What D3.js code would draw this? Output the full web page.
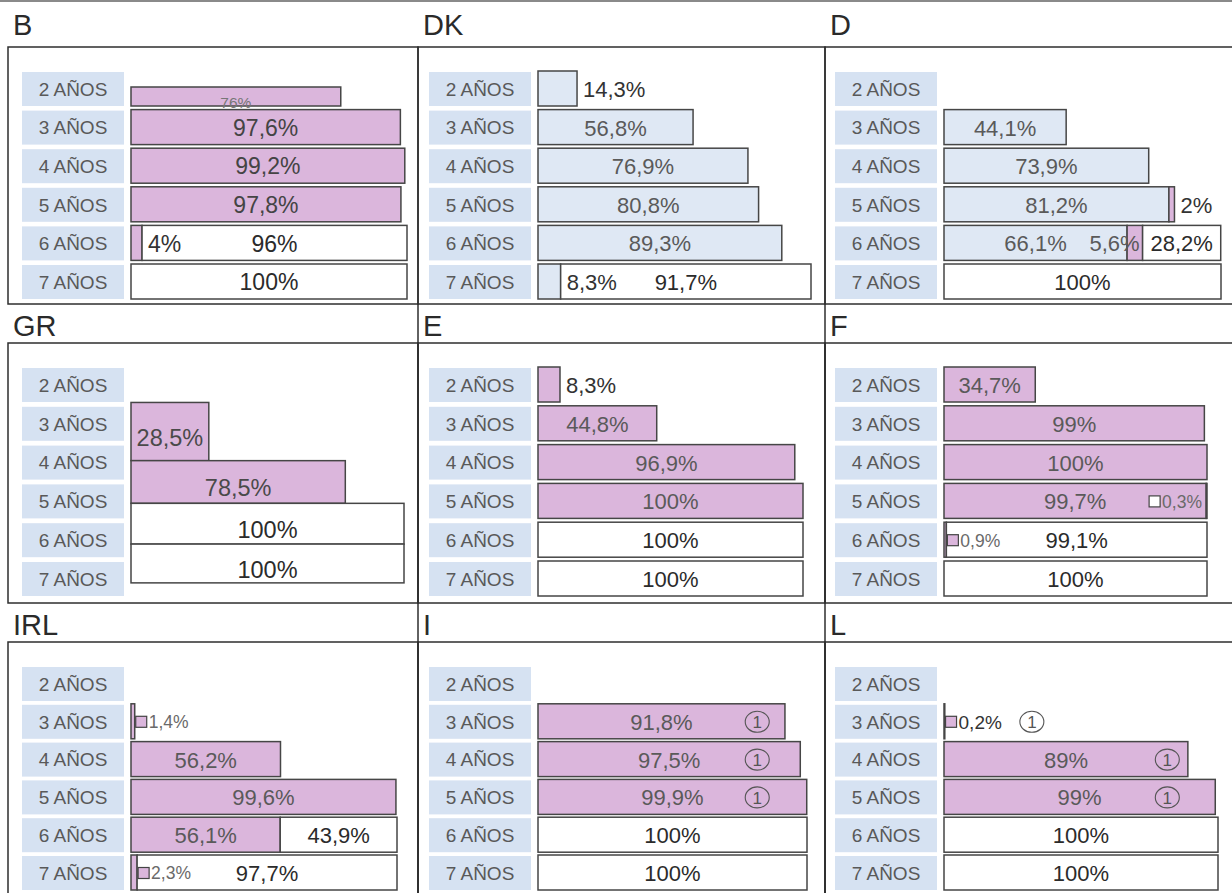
<!DOCTYPE html>
<html><head><meta charset="utf-8">
<script src="https://cdn.jsdelivr.net/npm/d3@7"></script>
<style>
body{margin:0;background:#fff;}
svg{display:block;font-family:"Liberation Sans",Arial,Helvetica,sans-serif;}
</style>
</head><body>
<svg id="c" width="1232" height="893"></svg>
<script>
// ---------------- DATA ----------------
const countries = ["B","DK","D","GR","E","F","IRL","I","L"];
const ages = ["2 AÑOS","3 AÑOS","4 AÑOS","5 AÑOS","6 AÑOS","7 AÑOS"];
// light blue: kindergarten, pink: pre-school, white: primary school (% of each age group)
const blueDK = [14.3, 56.8, 76.9, 80.8, 89.3, 8.3];
const blueD  = [0, 44.1, 73.9, 81.2, 66.1, 0];
const pinkB   = [76, 97.6, 99.2, 97.8, 4, 0];
const pinkD   = [0, 0, 0, 2, 5.6, 0];
const pinkGR  = [28.5, 78.5, 0, 0];
const pinkE   = [8.3, 44.8, 96.9, 100, 0, 0];
const pinkF   = [34.7, 99, 100, 99.7, 0.9, 0];
const pinkIRL = [0, 1.4, 56.2, 99.6, 56.1, 2.3];
const pinkI   = [0, 91.8, 97.5, 99.9, 0, 0];
const pinkL   = [0, 0.2, 89, 99, 0, 0];
const whiteB   = [0, 0, 0, 0, 96, 100];
const whiteDK  = [0, 0, 0, 0, 0, 91.7];
const whiteD   = [0, 0, 0, 0, 28.2, 100];
const whiteGR  = [0, 0, 100, 100];
const whiteE   = [0, 0, 0, 0, 100, 100];
const whiteF   = [0, 0, 0, 0.3, 99.1, 100];
const whiteIRL = [0, 0, 0, 0, 43.9, 97.7];
const whiteI   = [0, 0, 0, 0, 100, 100];
const whiteL   = [0, 0, 0, 0, 100, 100];
// Greek bars straddle age groups (age from / age to)
const grAgeFrom = [2.45, 3.95, 5.05, 6.1];
const grAgeTo   = [3.95, 5.05, 6.1, 7.1];
// footnote (1) markers
const noteI = [0, 1, 1, 1, 0, 0];
const noteL = [0, 1, 1, 1, 0, 0];

// ---------------- STYLE / LAYOUT ----------------
const C = {blue:"#dfe8f4", pink:"#dbb6dc", white:"#ffffff", label:"#d6e2f2",
           stroke:"#464646", border:"#2e2e2e"};
const seriesBy = {
  B:{blue:null,pink:pinkB,white:whiteB}, DK:{blue:blueDK,pink:null,white:whiteDK},
  D:{blue:blueD,pink:pinkD,white:whiteD}, GR:{blue:null,pink:pinkGR,white:whiteGR},
  E:{blue:null,pink:pinkE,white:whiteE}, F:{blue:null,pink:pinkF,white:whiteF},
  IRL:{blue:null,pink:pinkIRL,white:whiteIRL}, I:{blue:null,pink:pinkI,white:whiteI},
  L:{blue:null,pink:pinkL,white:whiteL}
};
const notesBy = {I:noteI, L:noteL};
const colX = [8, 418, 825, 1240];
const barX0 = [131, 538, 944];
const barW = {B:276, DK:273, D:277, GR:273, E:265, F:263, IRL:266, I:269, L:274};
const boxTop = [47, 343, 642], boxBottom = [304, 603, 905];
const titleY = [35, 336, 635];
const pitch = [38.6, 38.8, 37.8];
const labelH = 34;
const markerKeys = new Set(["F|5 AÑOS|white","F|6 AÑOS|pink","IRL|3 AÑOS|pink","IRL|7 AÑOS|pink","L|3 AÑOS|pink"]);
const endAnchorKeys = new Set(["D|6 AÑOS|pink"]);
const thinKeys = new Set(["B|2 AÑOS"]);
const fmt = v => String(v).replace(".", ",") + "%";

const svg = d3.select("#c");
svg.append("rect").attr("width",1232).attr("height",893).attr("fill","#fff");
svg.append("line").attr("x1",0).attr("x2",1232).attr("y1",1).attr("y2",1)
   .attr("stroke","#8a8a8a").attr("stroke-width",2);
// separators running through title bands of rows 2 and 3
[colX[1], colX[2]].forEach(xx => svg.append("line").attr("x1",xx).attr("x2",xx)
   .attr("y1",boxBottom[0]).attr("y2",893).attr("stroke",C.border).attr("stroke-width",1.5));

countries.forEach((c, k) => {
  const col = k % 3, row = Math.floor(k / 3);
  const g = svg.append("g");
  const left = colX[col], right = colX[col + 1];
  g.append("rect").attr("x",left).attr("y",boxTop[row]).attr("width",right-left)
    .attr("height",boxBottom[row]-boxTop[row]).attr("fill","none")
    .attr("stroke",C.border).attr("stroke-width",1.5);
  g.append("text").attr("x",left+5).attr("y",titleY[row]).text(c)
    .attr("font-size",29).attr("fill","#2a2a2a");

  const p = pitch[row], gap = p - labelH, r0 = boxTop[row] + 25;
  const y = d3.scaleBand().domain(ages).range([r0, r0 + 6*p - gap]).paddingInner(gap/p).paddingOuter(0);
  const bw = y.bandwidth();
  const x = d3.scaleLinear().domain([0,100]).range([barX0[col], barX0[col] + barW[c]]);

  // age label boxes
  const lab = g.selectAll("g.lab").data(ages).join("g");
  lab.append("rect").attr("x",barX0[col]-109).attr("y",d=>y(d)).attr("width",102)
     .attr("height",bw).attr("fill",C.label);
  lab.append("text").attr("x",barX0[col]-58).attr("y",d=>y(d)+bw/2).attr("dy","0.36em")
     .attr("text-anchor","middle").attr("font-size",19).attr("fill","#595959").text(d=>d);

  const barsL = g.append("g"), textL = g.append("g");
  const S = seriesBy[c];

  if (c === "GR") {
    const yAge = d3.scaleLinear().domain([2,7]).range([y(ages[0])+bw/2, y(ages[5])+bw/2]);
    grAgeFrom.forEach((a0, i) => {
      const segs = [["pink",S.pink[i]],["white",S.white[i]]].filter(s=>s[1]>0);
      let acc = 0;
      segs.forEach(([key,v]) => {
        const y0 = yAge(a0), y1 = yAge(grAgeTo[i]);
        barsL.append("rect").attr("x",x(acc)).attr("y",y0).attr("width",x(acc+v)-x(acc))
          .attr("height",y1-y0).attr("fill",C[key]).attr("stroke",C.stroke).attr("stroke-width",1.5);
        textL.append("text").attr("x",(x(acc)+x(acc+v))/2).attr("y",(y0+y1)/2+6).attr("dy","0.36em")
          .attr("text-anchor","middle").attr("font-size",23.5)
          .attr("fill",key==="white"?"#2b2b2b":"#4a4a4a").text(fmt(v));
        acc += v;
      });
    });
    return;
  }

  ages.forEach((a, i) => {
    const segs = [["blue",S.blue],["pink",S.pink],["white",S.white]]
      .filter(s => s[1] && s[1][i] > 0).map(s => [s[0], s[1][i]]);
    let acc = 0;
    const thin = thinKeys.has(c + "|" + a);
    const by0 = thin ? y(a) + bw - 19 : y(a) - 1, bh = thin ? 19 : bw + 1;
    const cy = y(a) + bw / 2;
    let lastTextEnd = null, lastValue = 0;
    segs.forEach(([key, v]) => {
      const x0 = x(acc), x1 = x(acc + v);
      barsL.append("rect").attr("x",x0).attr("y",by0).attr("width",Math.max(x1-x0,0.8))
        .attr("height",bh).attr("fill",C[key]).attr("stroke",C.stroke).attr("stroke-width",1.5);
      const tkey = c + "|" + a + "|" + key;
      const tcol = key === "white" ? "#2b2b2b" : (c === "B" ? "#444" : "#5a5a5a");
      const big = c === "B" ? 23 : 22;
      if (markerKeys.has(tkey)) {
        const fs = c === "L" ? 19 : 17.5;
        const t = textL.append("text").attr("font-size",fs).attr("fill",c==="L"?"#333":"#6a6a6a")
          .attr("y",cy).attr("dy","0.36em").text(fmt(v));
        const tw = t.node().getComputedTextLength();
        let sx;
        if (acc > 50) { sx = x(100) - 5 - tw - 13; }
        else { sx = x1 + 1; }
        textL.append("rect").attr("x",sx).attr("y",cy-5.5).attr("width",11).attr("height",11)
          .attr("fill",C[key]).attr("stroke","#444").attr("stroke-width",1.2);
        t.attr("x", sx + 13);
        lastTextEnd = sx + 13 + tw;
      } else if (thin) {
        textL.append("text").attr("x",(x0+x1)/2).attr("y",by0+bh+2).attr("text-anchor","middle")
          .attr("font-size",15.5).attr("fill","#777").text(fmt(v));
      } else if (endAnchorKeys.has(tkey)) {
        textL.append("text").attr("x",x1-3).attr("y",cy).attr("dy","0.36em").attr("text-anchor","end")
          .attr("font-size",big).attr("fill",tcol).text(fmt(v));
      } else if (v >= 20) {
        textL.append("text").attr("x",(x0+x1)/2).attr("y",cy).attr("dy","0.36em").attr("text-anchor","middle")
          .attr("font-size",big).attr("fill",tcol).text(fmt(v));
      } else {
        textL.append("text").attr("x",x1+6).attr("y",cy).attr("dy","0.36em")
          .attr("font-size",big).attr("fill",key==="white"?"#2b2b2b":"#333").text(fmt(v));
      }
      lastValue = v;
      acc += v;
    });
    const notes = notesBy[c];
    if (notes && notes[i]) {
      const nx = (lastValue < 20 && lastTextEnd !== null) ? lastTextEnd + 30 : x(81.5);
      textL.append("ellipse").attr("cx",nx).attr("cy",cy).attr("rx",12).attr("ry",10.5)
        .attr("fill","none").attr("stroke","#555").attr("stroke-width",1.1);
      textL.append("text").attr("x",nx).attr("y",cy).attr("dy","0.36em").attr("text-anchor","middle")
        .attr("font-size",17).attr("fill","#555").text("1");
    }
  });
});
</script>
</body></html>
